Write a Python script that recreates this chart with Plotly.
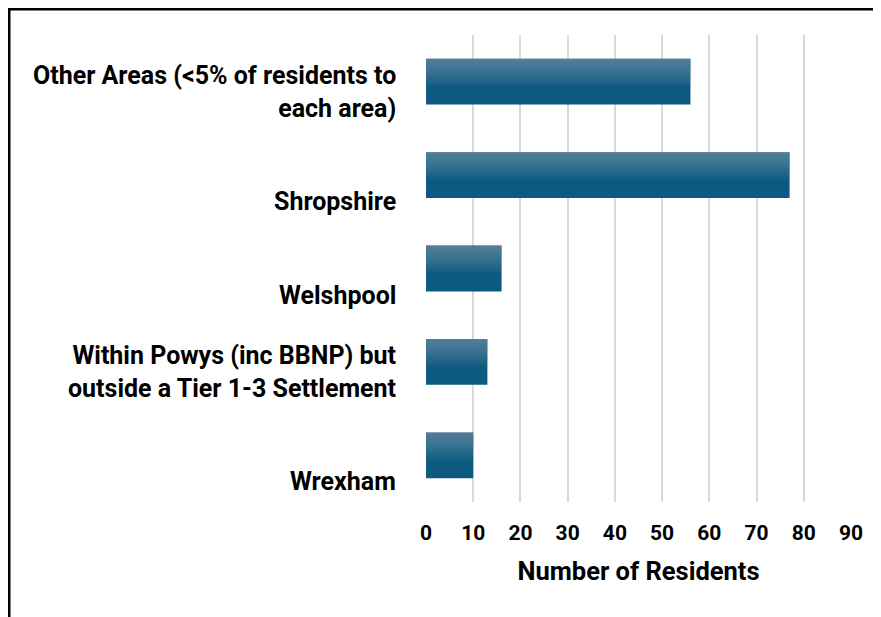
import plotly.graph_objects as go

# category labels, top to bottom
areas = [
    "Other Areas (<5% of residents to<br>each area)",
    "Shropshire",
    "Welshpool",
    "Within Powys (inc BBNP) but<br>outside a Tier 1-3 Settlement",
    "Wrexham",
]
residents = [56, 77, 16, 13, 10]
tick_vals = [0, 10, 20, 30, 40, 50, 60, 70, 80, 90]

FONT = "Roboto"
BAR_W = 0.49
TOP = -BAR_W / 2

# page body has an 8px margin, so the figure is sized to fit inside the window
W, H = 873, 609
L, R, T, B = 418, 30, 27, 115

fig = go.Figure()

# base bar (dark bottom colour)
fig.add_trace(go.Bar(
    y=list(range(len(areas))), x=residents, orientation="h",
    width=BAR_W, offset=TOP,
    marker=dict(color="#0c5a80", line=dict(width=0)),
    hoverinfo="skip", showlegend=False,
))

# stacked translucent layers to fake the vertical gradient (lighter at top)
n_layers = 14
for k in range(1, n_layers + 1):
    fig.add_trace(go.Bar(
        y=list(range(len(areas))), x=residents, orientation="h",
        width=BAR_W * 0.6 * k / n_layers, offset=TOP,
        marker=dict(color="rgba(150,170,190,0.055)", line=dict(width=0)),
        hoverinfo="skip", showlegend=False,
    ))

# category labels (Excel style: bottom-anchored below band centre)
for i, name in enumerate(areas):
    fig.add_annotation(
        x=0, y=i, xref="x", yref="y", text=f"<b>{name}</b>",
        showarrow=False, xanchor="right", yanchor="bottom", align="right",
        xshift=-28, yshift=-43,
        font=dict(family=FONT, size=25, color="#000000"),
    )

# outer frame (left and top visible, runs off right/bottom)
pw, ph = W - L - R, H - T - B
fig.add_shape(type="rect", xref="paper", yref="paper",
              x0=(1 - L) / pw, x1=(W + 10 - L) / pw,
              y0=-(B + 10) / ph, y1=1 + (T - 1) / ph,
              line=dict(color="#000000", width=3), layer="above")

fig.update_layout(
    width=W, height=H,
    margin=dict(l=L, r=R, t=T, b=B),
    barmode="overlay",
    plot_bgcolor="#ffffff", paper_bgcolor="#ffffff",
    font=dict(family=FONT, color="#000000"),
    xaxis=dict(
        range=[0, 90], tickvals=tick_vals,
        ticktext=[f"<b>{v}</b>" for v in tick_vals],
        tickfont=dict(family=FONT, size=21, color="#000000"),
        showgrid=True, gridcolor="#d9d9d9", gridwidth=2,
        zeroline=False, showline=False, ticks="",
        ticklabelstandoff=16,
        title=dict(text="<b>Number of Residents</b>",
                   font=dict(family=FONT, size=25.5, color="#000000"),
                   standoff=18),
        fixedrange=True,
    ),
    yaxis=dict(
        range=[len(areas) - 0.5, -0.5],
        showticklabels=False, showgrid=False, zeroline=False,
        showline=False, ticks="", fixedrange=True,
    ),
)

fig.write_html("out.html")
